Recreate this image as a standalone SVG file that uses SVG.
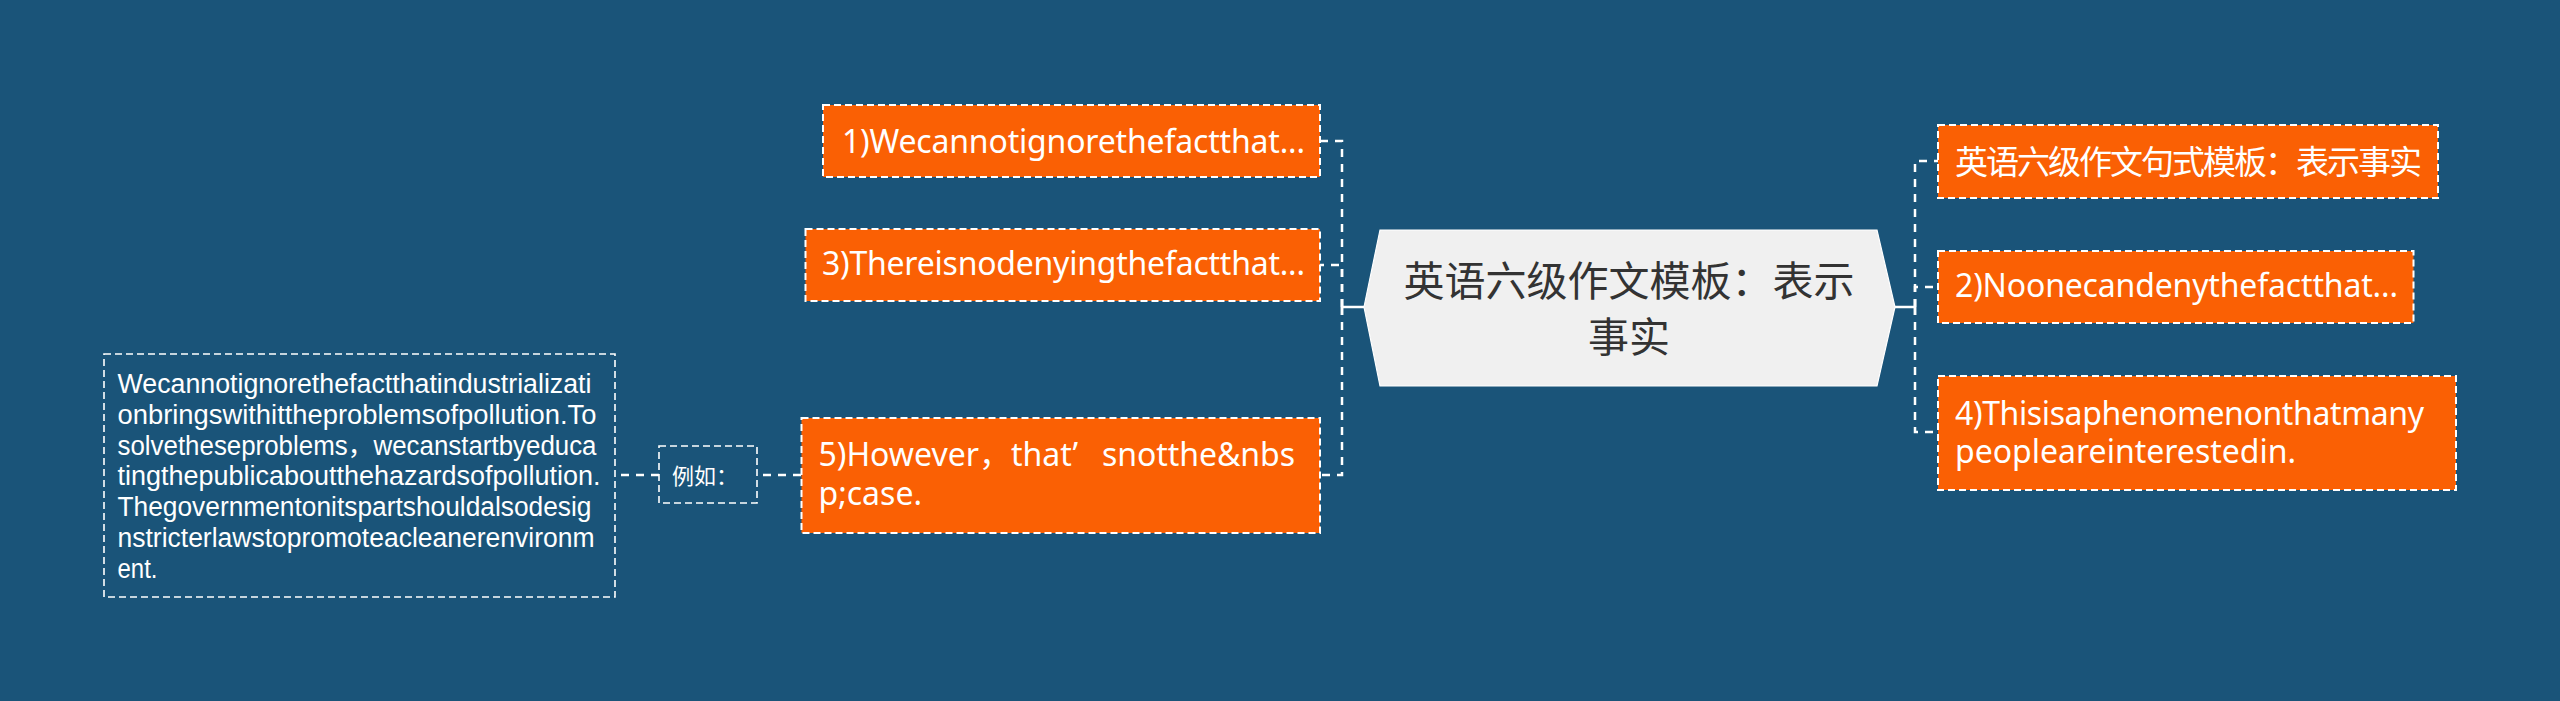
<svg xmlns="http://www.w3.org/2000/svg" width="2560" height="701" viewBox="0 0 2560 701">
<style>
.bg{fill:#1a5479}
.box{fill:#fa6004;stroke:#ffffff;stroke-width:2;stroke-dasharray:7 4}
.note{fill:none;stroke:#ffffff;stroke-width:1.6;stroke-dasharray:7 4}
.conn{fill:none;stroke:#ffffff;stroke-width:2.5;stroke-dasharray:8 7}
.solid{fill:none;stroke:#ffffff;stroke-width:2.5}
.t{font-family:"Noto Sans","Noto Sans CJK SC",sans-serif;fill:#ffffff;font-size:32px}
.tc{font-family:"Noto Sans","Noto Sans CJK SC",sans-serif;fill:#ffffff;font-size:33px}
.small{font-family:"Noto Sans","Noto Sans CJK SC",sans-serif;fill:#ffffff;font-size:22px}
.para{font-family:"Liberation Sans","Noto Sans CJK SC",sans-serif;fill:#ffffff;font-size:27px}
.center{font-family:"Noto Sans","Noto Sans CJK SC",sans-serif;fill:#333333;font-size:41px;text-anchor:middle}
</style>
<rect class="bg" x="0" y="0" width="2560" height="701"/>
<g id="connectors">
<path class="solid" d="M1342,307 H1364 M1342,299 V315"/>
<path class="conn" d="M1342,307 V141 H1320"/>
<path class="conn" d="M1342,307 V265 H1320"/>
<path class="conn" d="M1342,307 V475 H1320"/>
<path class="solid" d="M1895,307 H1915 M1915,299 V315"/>
<path class="conn" d="M1915,307 V161 H1938"/>
<path class="conn" d="M1915,307 V287 H1938"/>
<path class="conn" d="M1915,307 V432 H1938"/>
<path class="conn" d="M801,475 H757"/>
<path class="conn" d="M659,475 H615"/>
</g>
<g id="center">
<polygon points="1364,307 1380,230 1877,230 1895,307 1877,386 1380,386" fill="#f0f0f0" stroke="#ffffff" stroke-width="1.2"/>
<text class="center" x="1629" y="296">英语六级作文模板：表示</text>
<text class="center" x="1629" y="352">事实</text>
</g>
<g id="node1">
<rect class="box" x="823" y="105" width="497" height="72"/>
<text class="t" x="842" y="153" textLength="463">1)Wecannotignorethefactthat...</text>
</g>
<g id="node3">
<rect class="box" x="805.5" y="229" width="514.5" height="72"/>
<text class="t" x="822" y="275" textLength="483">3)Thereisnodenyingthefactthat...</text>
</g>
<g id="node5">
<rect class="box" x="801.5" y="418" width="518.5" height="115"/>
<text class="t" y="466"><tspan x="818.5">5)However，</tspan><tspan x="1011">that’</tspan><tspan x="1102" textLength="193">snotthe&amp;nbs</tspan></text>
<text class="t" x="818.5" y="505">p;case.</text>
</g>
<g id="example">
<rect class="note" x="659" y="446" width="98" height="57"/>
<text class="small" x="672" y="484">例如：</text>
</g>
<g id="note">
<rect class="note" x="104" y="354" width="511" height="243"/>
<text class="para" x="117.5" y="393" textLength="474" lengthAdjust="spacingAndGlyphs">Wecannotignorethefactthatindustrializati</text>
<text class="para" x="117.5" y="423.8" textLength="479" lengthAdjust="spacingAndGlyphs">onbringswithittheproblemsofpollution.To</text>
<text class="para" x="117.5" y="454.6" textLength="479" lengthAdjust="spacingAndGlyphs">solvetheseproblems，wecanstartbyeduca</text>
<text class="para" x="117.5" y="485.4" textLength="483" lengthAdjust="spacingAndGlyphs">tingthepublicaboutthehazardsofpollution.</text>
<text class="para" x="117.5" y="516.2" textLength="474" lengthAdjust="spacingAndGlyphs">Thegovernmentonitspartshouldalsodesig</text>
<text class="para" x="117.5" y="547" textLength="477" lengthAdjust="spacingAndGlyphs">nstricterlawstopromoteacleanerenvironm</text>
<text class="para" x="117.5" y="577.8" textLength="40" lengthAdjust="spacingAndGlyphs">ent.</text>
</g>
<g id="right1">
<rect class="box" x="1938" y="125" width="500" height="73"/>
<text class="tc" x="1955" y="174" textLength="467">英语六级作文句式模板：表示事实</text>
</g>
<g id="right2">
<rect class="box" x="1938" y="251" width="475.5" height="72"/>
<text class="t" x="1955" y="297" textLength="443">2)Noonecandenythefactthat...</text>
</g>
<g id="right4">
<rect class="box" x="1938" y="376" width="518" height="114"/>
<text class="t" x="1955" y="425" textLength="469">4)Thisisaphenomenonthatmany</text>
<text class="t" x="1955" y="463">peopleareinterestedin.</text>
</g>
</svg>
